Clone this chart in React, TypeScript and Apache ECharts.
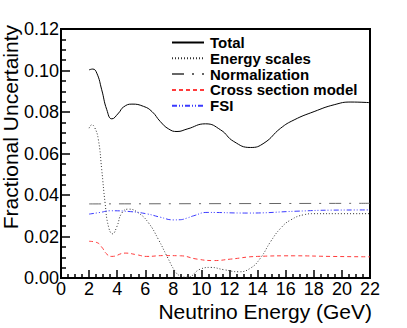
import React, { useEffect, useRef } from "react";
import * as echarts from "echarts";

const seriesNames = ["Total", "Energy scales", "Normalization", "Cross section model", "FSI"];

const totalCurve: [number, number][] = [
  [2.0, 0.1003], [2.26, 0.1007], [2.55, 0.0987], [2.9, 0.0907], [3.26, 0.0811],
  [3.62, 0.0767], [4.1, 0.0795], [4.45, 0.0824], [5.05, 0.0838], [5.88, 0.0827],
  [6.48, 0.0802], [7.07, 0.0754], [7.67, 0.0718], [8.26, 0.0706], [8.98, 0.0718],
  [10.29, 0.0743], [11.36, 0.0714], [12.3, 0.0658], [13.5, 0.0629], [14.45, 0.065],
  [15.64, 0.0722], [16.6, 0.0762], [18.02, 0.0802], [19.45, 0.0835], [20.64, 0.0848],
  [22.0, 0.0845],
];

const energyScalesCurve: [number, number][] = [
  [2.0, 0.0722], [2.19, 0.0738], [2.4, 0.0725], [2.66, 0.0667], [2.9, 0.0522],
  [3.14, 0.0361], [3.38, 0.0248], [3.67, 0.0213], [3.98, 0.0248], [4.33, 0.0313],
  [4.81, 0.0332], [5.52, 0.0313], [6.24, 0.0265], [6.95, 0.0184], [7.55, 0.0104],
  [8.14, 0.0031], [8.5, 0.001], [8.98, 0.0004], [9.93, 0.0043], [10.64, 0.0051],
  [11.6, 0.004], [12.66, 0.003], [13.5, 0.0048], [14.2, 0.0096], [14.93, 0.0176],
  [15.64, 0.024], [16.36, 0.028], [17.3, 0.0305], [18.0, 0.031], [20.0, 0.031],
  [22.0, 0.031],
];

const normalizationCurve: [number, number][] = [
  [2.0, 0.0357], [22.0, 0.036],
];

const crossSectionCurve: [number, number][] = [
  [2.0, 0.0177], [2.55, 0.0171], [2.9, 0.0149], [3.26, 0.0115], [3.62, 0.0104],
  [4.57, 0.012], [5.4, 0.0112], [6.1, 0.0104], [7.3, 0.0108], [8.5, 0.0107],
  [9.69, 0.0091], [10.88, 0.0084], [12.07, 0.0091], [13.98, 0.0104], [16.6, 0.0107],
  [19.2, 0.0104], [22.0, 0.0102],
];

const fsiCurve: [number, number][] = [
  [2.0, 0.0308], [2.79, 0.0316], [3.5, 0.0324], [4.93, 0.032], [6.12, 0.0309],
  [7.07, 0.0293], [8.02, 0.028], [8.5, 0.0281], [8.98, 0.0289], [9.45, 0.03],
  [10.4, 0.0316], [13.26, 0.0313], [16.8, 0.0322], [19.2, 0.0327], [22.0, 0.0328],
];

const xTitle = "Neutrino Energy (GeV)";
const yTitle = "Fractional Uncertainty";

const FONT = "'Liberation Sans', Arial, Helvetica, sans-serif";

export default function App() {
  const ref = useRef<HTMLDivElement>(null);
  useEffect(() => {
    if (!ref.current) return;
    const chart = echarts.init(ref.current, undefined, { renderer: "svg" });
    const mk = (name: string, data: [number, number][], color: string, type: any, width = 1) => ({
      name,
      type: "line",
      data,
      smooth: 0.5,
      symbol: "none",
      lineStyle: { color, width, type },
      itemStyle: { color, opacity: 0 },
      z: 3,
    });
    chart.setOption({
      animation: false,
      backgroundColor: "#fff",
      grid: {
        left: 61,
        right: 37,
        top: 29,
        bottom: 50,
        show: true,
        borderColor: "#000",
        borderWidth: 2,
        backgroundColor: "transparent",
      },
      legend: {
        orient: "vertical",
        left: 171,
        top: 35,
        itemWidth: 32,
        itemHeight: 14,
        itemGap: 0.8,
        padding: 0,
        data: seriesNames,
        itemStyle: { opacity: 0 },
        textStyle: {
          fontFamily: FONT,
          fontSize: 15,
          lineHeight: 14,
          fontWeight: "bold",
          color: "#000",
          padding: [0, 0, 0, 1],
        },
      },
      xAxis: {
        type: "value",
        min: 0,
        max: 22,
        interval: 2,
        axisLine: { show: true, lineStyle: { color: "#000", width: 2 } },
        axisTick: { show: true, inside: true, length: 8, lineStyle: { color: "#000", width: 1.5 } },
        minorTick: { show: true, splitNumber: 4, length: 4, lineStyle: { color: "#000", width: 1.5 } },
        splitLine: { show: false },
        axisLabel: {
          show: true,
          margin: 2,
          fontFamily: FONT,
          fontSize: 18,
          color: "#000",
          showMinLabel: true,
          showMaxLabel: true,
        },
      },
      yAxis: {
        type: "value",
        min: 0,
        max: 0.12,
        interval: 0.02,
        axisLine: { show: true, lineStyle: { color: "#000", width: 2 } },
        axisTick: { show: true, inside: true, length: 9, lineStyle: { color: "#000", width: 1.5 } },
        minorTick: { show: true, splitNumber: 4, length: 5, lineStyle: { color: "#000", width: 1.5 } },
        splitLine: { show: false },
        axisLabel: {
          show: true,
          margin: 2,
          fontFamily: FONT,
          fontSize: 18,
          color: "#000",
          formatter: (v: number) => v.toFixed(2),
          showMinLabel: true,
          showMaxLabel: true,
        },
      },
      graphic: [
        {
          type: "text",
          x: 10.5,
          y: 25,
          rotation: Math.PI / 2,
          style: {
            text: yTitle,
            fontFamily: FONT,
            fontSize: 21,
            fill: "#000",
            align: "right",
            verticalAlign: "middle",
          },
        },
        {
          type: "text",
          x: 372,
          y: 311,
          style: {
            text: xTitle,
            fontFamily: FONT,
            fontSize: 21,
            fill: "#000",
            align: "right",
            verticalAlign: "middle",
          },
        },
      ],
      series: [
        mk(seriesNames[0], totalCurve, "#000", "solid"),
        mk(seriesNames[1], energyScalesCurve, "#333", [1, 2]),
        mk(seriesNames[2], normalizationCurve, "#666", [12, 8, 2, 8]),
        mk(seriesNames[3], crossSectionCurve, "#ff3b3b", [4, 3]),
        mk(seriesNames[4], fsiCurve, "#3a3aff", [5, 2, 1, 2, 1, 2]),
      ],
    });
    return () => chart.dispose();
  }, []);
  return (
    <div
      ref={ref}
      style={{ position: "fixed", left: 0, top: 0, width: 407, height: 328 }}
    />
  );
}
